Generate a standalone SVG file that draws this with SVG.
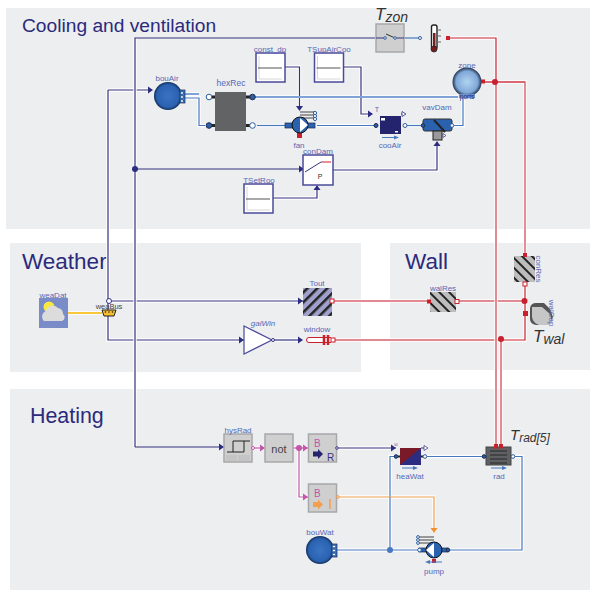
<svg xmlns="http://www.w3.org/2000/svg" xmlns:xlink="http://www.w3.org/1999/xlink" width="590" height="590" viewBox="0 0 590 590">
<style>
text{font-family:"Liberation Sans",Arial,sans-serif}
.zone{fill:#edeef0}
.h{font-size:21.400px;fill:#2b2a7c}
.l{font-size:8px;fill:#5568b4;text-anchor:middle}
.t{font-style:italic;fill:#333;font-size:17px}
.t tspan{font-size:14px}
.halo{fill:none;stroke:#fff;stroke-width:3.5;opacity:.95}
.navy{fill:none;stroke:#34327f;stroke-width:1.2}
.blue{fill:none;stroke:#4678c0;stroke-width:1.2}
.lblue{fill:none;stroke:#7fa3d6;stroke-width:2}
.red{fill:none;stroke:#c8202c;stroke-width:1.2}
.pink{fill:none;stroke:#e28a92;stroke-width:2}
.pink2{fill:none;stroke:#d85f6a;stroke-width:1.400}
.mag{fill:none;stroke:#c455a8;stroke-width:1.2}
.org{fill:none;stroke:#f0a050;stroke-width:1.2}
.yel{fill:none;stroke:#f8c838;stroke-width:2}
.block{fill:#fff;stroke:#4a4a98;stroke-width:1.5}
.grey{fill:#cfcfd0;stroke:#a8a8aa;stroke-width:1.5}
.gl{fill:none;stroke:#ccc;stroke-width:.8}
.pn{fill:#2c2c80}
.pr{fill:#c8202c}
.po{fill:#fff;stroke:#2d5e9e;stroke-width:1}
.pd{fill:#2d5e9e;stroke:#1a2a50;stroke-width:1}
</style>
<defs>
<path id="a" d="M-5,-3.5L0,0L-5,3.5z"/>
<g id="src">
<rect class="block" x="0" y="0" width="29" height="29"/>
<path class="gl" d="M3,26V3M3,26H26"/>
<path d="M2,15H26" fill="none" stroke="#555" stroke-width="1"/>
</g>
<radialGradient id="gb"><stop offset="0" stop-color="#3a74c4"/><stop offset=".8" stop-color="#2a62b0"/><stop offset="1" stop-color="#12305e"/></radialGradient>
<radialGradient id="gz"><stop offset="0" stop-color="#b0d4f0"/><stop offset=".75" stop-color="#80a8d8"/><stop offset="1" stop-color="#23334f"/></radialGradient>
<pattern id="hatchB" width="7" height="7" patternUnits="userSpaceOnUse" patternTransform="rotate(-45)"><rect width="7" height="7" fill="#a0a0cc"/><rect width="7" height="2.500" fill="#222"/></pattern>
<pattern id="hatchG" width="7" height="7" patternUnits="userSpaceOnUse" patternTransform="rotate(45)"><rect width="7" height="7" fill="#bdbdbd"/><rect width="7" height="2" fill="#222"/></pattern>
</defs>

<g id="zones">
<rect class="zone" x="6" y="8" width="584" height="221"/>
<rect class="zone" x="10" y="243" width="351" height="129"/>
<rect class="zone" x="390" y="243" width="200" height="127"/>
<rect class="zone" x="10" y="389" width="580" height="201"/>
<text class="h" x="22" y="32" style="font-size:19.200px">Cooling and ventilation</text>
<text class="h" x="22" y="269" style="font-size:22.500px">Weather</text>
<text class="h" x="405" y="269" style="font-size:22.500px">Wall</text>
<text class="h" x="30" y="423">Heating</text>
</g>

<g id="connectors">
<g class="halo"><use href="#w-navy"/><use href="#w-lblue"/><use href="#w-blue"/><use href="#w-mag"/><use href="#w-org"/><use href="#w-yel"/><use href="#w-pink"/><use href="#w-pink2"/><use href="#w-red"/></g>
<g class="navy"><g id="w-navy">
<path d="M108,301H303"/><path d="M108,90V340H244"/><path d="M108,90H152"/>
<path d="M272,340H302"/>
<path d="M285,67H299.500V108"/><path d="M344,67H361V114H372"/>
<path d="M273,198H317V186"/><path d="M333,170H437V142"/>
<path d="M337,448H396"/>
</g></g>
<g class="lblue"><g id="w-lblue"><path d="M183,94H199"/><path d="M253,97H458"/></g></g>
<g class="blue"><g id="w-blue">
<path d="M183,98H199V125.500H205"/><path d="M257,125.500H285"/><path d="M317,125.500H375"/><path d="M405,125.500H421"/><path d="M452,125.500H463V97"/>
<path d="M395,456.500H390V550"/><path d="M425,456.500H484"/><path d="M513,456.500H522V550H448"/><path d="M335,550H419"/>
</g></g>
<g class="mag"><g id="w-mag"><path d="M252,448H265"/><path d="M293,448H308"/><path d="M299,448V497H308"/></g></g>
<g class="org"><g id="w-org"><path d="M337,497H434V532"/></g></g>
<g class="yel"><g id="w-yel"><path d="M68,313H102"/></g></g>
<g class="pink"><g id="w-pink">
<path d="M332,301H429"/><path d="M457,301H525"/><path d="M333,340H501V447"/>
</g></g>
<g class="pink2"><g id="w-pink2"><path d="M525,255V82H481"/></g></g>
<g class="red"><g id="w-red"><path d="M448,38H496V82"/><path d="M525,283V340H501"/><path d="M303,301H328"/></g></g>
<g class="halo"><path d="M135,38V447"/><path d="M496,82V447"/></g>
<path class="pink" d="M496,82V447"/>
<path class="pink2" d="M481,82H525"/>
<path class="navy" d="M135,447V38H375"/>
<path class="navy" d="M135,169H304"/>
<path class="navy" d="M135,447H224"/>
<path class="blue" d="M404,38H420"/>
<g class="pn">
<use href="#a" transform="translate(153,90)"/>
<use href="#a" transform="translate(303,301)"/>
<use href="#a" transform="translate(244,340)"/>
<use href="#a" transform="translate(303,340)"/>
<use href="#a" transform="translate(304,169)"/>
<use href="#a" transform="translate(299.500,111) rotate(90)"/>
<use href="#a" transform="translate(373,114)"/>
<use href="#a" transform="translate(437,141) rotate(-90)"/>
<use href="#a" transform="translate(317,185) rotate(-90)"/>
<use href="#a" transform="translate(224,447)"/>
<use href="#a" transform="translate(396,448)"/>
<circle cx="135" cy="169" r="3"/>
</g>
<use href="#a" class="pr" transform="translate(331,301)"/>
<g fill="#c455a8">
<use href="#a" transform="translate(265,448)"/>
<use href="#a" transform="translate(308,448)"/>
<use href="#a" transform="translate(308,497)"/>
<circle cx="299" cy="448" r="3"/>
</g>
<use href="#a" fill="#f09030" transform="translate(434,533) rotate(90)"/>
<circle cx="390" cy="550" r="3" fill="#4678c0"/>
<g class="pr"><circle cx="495" cy="82" r="3"/><circle cx="524.500" cy="301" r="3"/><circle cx="501" cy="339" r="3"/></g>
</g>

<g id="weaDat"><rect x="39" y="298" width="29" height="30" fill="#7a8cc8"/><circle cx="49" cy="307" r="5.500" fill="#f8e840"/><path d="M44,321a6,6,0 0 1 2,-10a7,7 0 0 1 12,-3a6,6 0 0 1 5,6a4,4 0 0 1 -1,7z" fill="#dcdcdc"/><text class="l" x="53" y="298">weaDat</text></g>
<g id="weaBus"><circle cx="109" cy="301" r="2.500" fill="#fff" stroke="#34327f"/><path d="M102,310H116L114,316H104z" fill="#f8c030" stroke="#222" stroke-width="1"/><circle cx="105.500" cy="312" r=".8" fill="#222"/><circle cx="109" cy="312" r=".8" fill="#222"/><circle cx="112.500" cy="312" r=".8" fill="#222"/><text x="109" y="308.500" text-anchor="middle" style="font-size:7.500px;fill:#444">weaBus</text></g>
<g id="bouAir"><circle cx="168" cy="96" r="14" fill="url(#gb)"/><rect x="180" y="90" width="5" height="13" fill="#3a74c4" stroke="#1a2a50" stroke-width=".7"/><circle cx="182" cy="93" r="1.500" class="po"/><circle cx="182" cy="97" r="1.500" class="po"/><circle cx="182" cy="101" r="1.500" class="po"/><text class="l" x="167" y="81">bouAir</text></g>
<g id="hexRec"><rect x="215" y="92" width="31" height="39" fill="#626365"/><path d="M212,97H215M212,125.500H215M246,97H250M246,125.500H250" stroke="#222" stroke-width="3"/><circle class="po" cx="209" cy="97" r="2.800"/><circle class="pd" cx="209" cy="125.500" r="2.800"/><circle class="pd" cx="252.500" cy="97" r="2.800"/><circle class="po" cx="252.500" cy="125.500" r="2.800"/><text x="231" y="86" text-anchor="middle" style="font-size:8.500px;fill:#5568b4">hexRec</text></g>
<g id="const_dp"><use href="#src" transform="translate(256,53)"/><text class="l" x="270" y="52">const_dp</text></g>
<g id="TSupAirCoo"><use href="#src" transform="translate(314.500,53)"/><text class="l" x="329" y="52">TSupAirCoo</text></g>
<g id="TSetRoo"><use href="#src" transform="translate(244,184)"/><text class="l" x="259" y="183">TSetRoo</text></g>
<g id="fan"><path d="M300,112H315M300,115H315M300,118H315" stroke="#444"/><circle cx="315" cy="113" r="1.600" class="po"/><circle cx="315" cy="116" r="1.600" class="po"/><circle cx="315" cy="119" r="1.600" class="po"/><rect x="285" y="123" width="30" height="5" fill="#2a62b0" stroke="#1a2a50" stroke-width=".7"/><rect x="297" y="133" width="5" height="5" class="pr"/><circle cx="300" cy="125" r="8" fill="#2a62b0" stroke="#111" stroke-width="1"/><path d="M300,118L308,125L300,132z" fill="#fff"/><text class="l" x="299" y="148">fan</text></g>
<g id="conDam"><rect class="block" x="303" y="155" width="30" height="30"/><path d="M305,172L321,162" fill="none" stroke="#34327f"/><path d="M321,162H331" stroke="#c8202c"/><text x="320" y="179" text-anchor="middle" style="font-size:7px;fill:#333">P</text><text class="l" x="318" y="154">conDam</text></g>
<g id="cooAir"><rect x="380" y="116" width="21" height="18" fill="#24246e"/><rect x="381" y="118" width="4" height="2.500" fill="#fff"/><rect x="395" y="131" width="3" height="1.500" fill="#fff"/><circle class="pd" cx="376" cy="125.500" r="2"/><circle class="po" cx="405" cy="125.500" r="2"/><path d="M401,114H405" stroke="#34327f"/><path d="M406,114l-4,-2.500v5z" fill="#fff" stroke="#34327f" stroke-width=".8"/><path d="M382,137.500H396" stroke="#4678c0"/><path d="M399,137.500l-5,-2v4z" fill="#4678c0"/><text class="l" x="390" y="148">cooAir</text><text x="377" y="112" text-anchor="middle" style="font-size:7px;fill:#5568b4">T</text></g>
<g id="vavDam"><rect x="423" y="119" width="29" height="12" rx="2" fill="#2a62b0" stroke="#333"/><rect x="433" y="131" width="9" height="9" fill="#999" stroke="#222"/><path d="M434,120L445,132" stroke="#222" stroke-width="2"/><circle class="pd" cx="423" cy="125.500" r="1.800"/><circle class="po" cx="452" cy="125.500" r="1.800"/><path d="M446,135.500l-3,-2v4z" fill="#fff" stroke="#34327f" stroke-width=".7"/><text class="l" x="437" y="110">vavDam</text></g>
<g id="zone"><circle cx="467" cy="82" r="14.500" fill="url(#gz)"/><rect x="459" y="94" width="16" height="4" fill="#6e94cc"/><rect x="481" y="79.500" width="4" height="4" class="pr"/><text class="l" x="467" y="68">zone</text><text x="467" y="99" text-anchor="middle" style="font-size:6.500px;fill:#24246e">ports</text></g>
<g id="Tzon"><rect class="grey" x="376" y="24" width="28" height="28"/><path d="M376,38H384M396,38H404" stroke="#34327f"/><path d="M386,34L395,38" stroke="#333" fill="none"/><circle cx="385" cy="38" r="1.300" class="po"/><circle cx="395" cy="38" r="1.300" class="po"/><text class="t" x="375" y="20">T<tspan dy="2">zon</tspan></text></g>
<g id="thermometer"><rect x="431.500" y="25" width="5.500" height="24" rx="2" fill="#fff" stroke="#222" stroke-width="1.400"/><rect x="433" y="33" width="2.500" height="16" fill="#7a1c1c"/><circle cx="434" cy="49" r="3" fill="#7a1c1c" stroke="#222" stroke-width=".8"/><path d="M437,30H441M437,36H441M437,42H441" stroke="#666"/><rect x="446" y="36" width="4" height="4" class="pr"/><circle cx="420" cy="38" r="1.500" class="po"/></g>
<g id="Tout"><rect x="303" y="288" width="29" height="28" fill="url(#hatchB)"/><rect x="330" y="299" width="4" height="4" fill="#fff" stroke="#c8202c"/><text class="l" x="317" y="286">Tout</text></g>
<g id="gaiWin"><path d="M244,326L272,340L244,354z" fill="#fff" stroke="#4a4a98" stroke-width="1.200"/><circle cx="273" cy="340" r="1.500" fill="#fff" stroke="#34327f"/><text x="263" y="326" text-anchor="middle" style="font-size:8px;font-style:italic;fill:#5568b4">gaiWin</text></g>
<g id="window"><path d="M331,337.500H309a2.500,2.500 0 0 0 0,5H331" fill="#fff" stroke="#c8202c"/><path d="M324,335V345M328,335V345" stroke="#c8202c" stroke-width="2.500"/><rect x="331" y="338" width="4" height="4" fill="#fff" stroke="#c8202c"/><text class="l" x="317" y="332">window</text></g>
<g id="wallRes"><rect x="430" y="292" width="26" height="20" fill="url(#hatchG)"/><rect x="427" y="299.500" width="4" height="4" class="pr"/><rect x="455" y="299.500" width="4" height="4" fill="#fff" stroke="#c8202c"/><text class="l" x="443" y="291">walRes</text></g>
<g id="conRes"><rect x="514" y="256" width="21" height="26" fill="url(#hatchG)"/><rect x="523" y="253" width="4" height="4" class="pr"/><rect x="523" y="282" width="4" height="4" fill="#fff" stroke="#c8202c"/><text class="l" transform="translate(536,269) rotate(90)">conRes</text></g>
<g id="walCap"><path d="M530,308q1,-5 6,-5h8l6,6 3,8 -3,6 -5,2h-9q-6,-1 -6,-6z" fill="#555"/><path d="M532,307h10l8,7 2,8 -4,3h-9q-6,-2 -7,-8z" fill="#c6c6c6"/><rect x="523" y="311" width="5" height="5" class="pr"/><text class="l" transform="translate(549,313) rotate(90)">walCap</text><text class="t" x="533" y="342">T<tspan dy="2">wal</tspan></text></g>
<g id="hysRad"><rect class="grey" x="224" y="434" width="28" height="28"/><path d="M227,452H244M233,452V441H250M244,441V452" fill="none" stroke="#222" stroke-width="1"/><rect x="226" y="455" width="11" height="6" fill="#c4c4c4"/><rect x="238" y="455" width="12" height="6" fill="#c4c4c4"/><circle cx="253" cy="448" r="1.500" fill="#fff" stroke="#c455a8"/><text class="l" x="238" y="433">hysRad</text></g>
<g id="not"><rect class="grey" x="265" y="434" width="28" height="28"/><text x="279" y="453" text-anchor="middle" style="font-size:11px;fill:#444">not</text></g>
<g id="booToRea"><rect class="grey" x="308.500" y="434" width="28" height="28"/><text x="314" y="447" style="font-size:10px;fill:#c455a8">B</text><path d="M313,451.500H318V449L323,454L318,459V456.500H313z" fill="#24246e"/><text x="327" y="461" style="font-size:10px;fill:#34327f">R</text><circle cx="337" cy="448" r="1.300" fill="#fff" stroke="#34327f"/></g>
<g id="booToInt"><rect class="grey" x="308.500" y="484" width="28" height="28"/><text x="314" y="497" style="font-size:10px;fill:#c455a8">B</text><path d="M313,502H318V499.500L323,504.500L318,509.500V507H313z" fill="#f0a050"/><path d="M330,499V509" stroke="#f0a050" stroke-width="1.500"/><circle cx="338" cy="497" r="1.300" fill="#fff" stroke="#f09030"/></g>
<g id="heaWat"><rect x="400" y="448" width="21" height="17" fill="#7a1a28"/><path d="M400,465L421,448V465z" fill="#2c2c80"/><path d="M398,456.500H400M421,456.500H423" stroke="#222" stroke-width="2"/><circle class="pd" cx="396" cy="456.500" r="1.800"/><circle class="po" cx="425" cy="456.500" r="1.800"/><path d="M421,448H427" stroke="#34327f"/><path d="M428,448l-4,-2.500v5z" fill="#fff" stroke="#34327f" stroke-width=".7"/><path d="M402,468H414" stroke="#4678c0"/><path d="M418,468l-5,-2v4z" fill="#4678c0"/><text x="396" y="446" text-anchor="middle" style="font-size:6px;fill:#5568b4">u</text><text class="l" x="410" y="479">heaWat</text></g>
<g id="rad"><rect x="486" y="447" width="25" height="18" fill="#5f6063" stroke="#444"/><path d="M490,451H507M490,455H507M490,459H507M490,463H507" stroke="#222" stroke-width=".9"/><rect x="494" y="444" width="4" height="4.500" class="pr"/><rect x="499" y="444" width="4" height="4.500" class="pr"/><circle class="pd" cx="484" cy="456.500" r="1.800"/><circle class="po" cx="513" cy="456.500" r="1.800"/><path d="M491,468H502" stroke="#4678c0"/><path d="M507,468l-5,-2v4z" fill="#4678c0"/><text class="l" x="499" y="479">rad</text><text class="t" x="510" y="440" style="font-size:15px">T<tspan dy="2" style="font-size:12px">rad[5]</tspan></text></g>
<g id="pump"><path d="M419,540H434M419,537H434M419,543H434" stroke="#444"/><circle cx="418" cy="537" r="1.400" class="po"/><circle cx="418" cy="540" r="1.400" class="po"/><circle cx="418" cy="543" r="1.400" class="po"/><rect x="419" y="548" width="29" height="4" fill="#2a62b0" stroke="#1a2a50" stroke-width=".7"/><circle class="po" cx="419.500" cy="550" r="1.800"/><circle class="pd" cx="448" cy="550" r="1.800"/><rect x="432" y="559" width="4" height="4" class="pr"/><circle cx="434" cy="550" r="8" fill="#2a62b0" stroke="#111" stroke-width="1"/><path d="M434,543L426,550L434,557z" fill="#fff"/><path d="M428,562H442" stroke="#4678c0"/><path d="M425,562l5,-2v4z" fill="#4678c0"/><text class="l" x="434" y="574">pump</text></g>
<g id="bouWat"><circle cx="320" cy="550" r="14" fill="url(#gb)"/><rect x="332" y="544" width="5" height="13" fill="#3a74c4" stroke="#1a2a50" stroke-width=".7"/><circle cx="334" cy="546.500" r="1.500" class="po"/><circle cx="334" cy="550.500" r="1.500" class="po"/><circle cx="334" cy="554.500" r="1.500" class="po"/><text class="l" x="320" y="535">bouWat</text></g>
</svg>
